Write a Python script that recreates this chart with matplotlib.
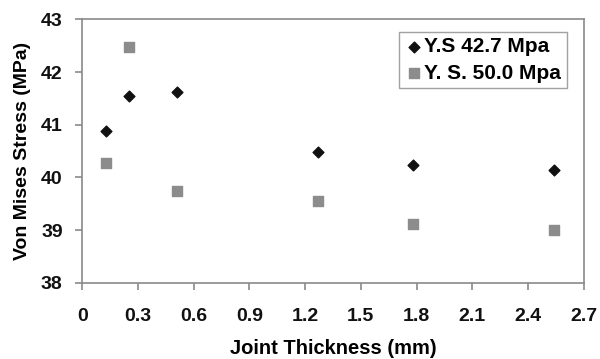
import matplotlib
matplotlib.use("Agg")
import matplotlib.pyplot as plt

plt.rcParams['font.family'] = ['Liberation Sans', 'DejaVu Sans']
plt.rcParams['font.weight'] = 'bold'

thickness = [0.127, 0.254, 0.508, 1.27, 1.778, 2.54]
ys_427 = [40.89, 41.54, 41.62, 40.48, 40.24, 40.14]
ys_500 = [40.27, 42.48, 39.75, 39.56, 39.12, 39.00]
xtick_vals = [0, 0.3, 0.6, 0.9, 1.2, 1.5, 1.8, 2.1, 2.4, 2.7]
xtick_labels = ['0', '0.3', '0.6', '0.9', '1.2', '1.5', '1.8', '2.1', '2.4', '2.7']
ytick_vals = [38, 39, 40, 41, 42, 43]

fig = plt.figure(figsize=(6, 3.59), dpi=100)
ax = fig.add_axes([0.137, 0.212, 0.836, 0.734])

ax.scatter(thickness, ys_427, marker='D', s=30, color='#111111', label='Y.S 42.7 Mpa', zorder=3)
ax.scatter(thickness, ys_500, marker='s', s=45, color='#8c8c8c', label='Y. S. 50.0 Mpa', zorder=3)

ax.set_xlim(0, 2.7)
ax.set_ylim(38, 43)
ax.set_xticks(xtick_vals)
ax.set_xticklabels(xtick_labels, fontweight='bold', fontsize=14)
ax.set_yticks(ytick_vals)
ax.set_yticklabels([str(v) for v in ytick_vals], fontweight='bold', fontsize=14)

for sp in ax.spines.values():
    sp.set_color('#8a8a8a')
    sp.set_linewidth(1.2)
ax.tick_params(axis='both', colors='#8a8a8a', labelcolor='#111111',
               length=5, width=1.2, direction='out')
ax.tick_params(axis='x', pad=13)
ax.tick_params(axis='y', pad=9)

ax.set_xlabel('Joint Thickness (mm)', fontsize=14.5, fontweight='bold', labelpad=10)
ax.set_ylabel('Von Mises Stress (MPa)', fontsize=14, fontweight='bold', labelpad=7)

leg = ax.legend(loc='upper right', bbox_to_anchor=(0.978, 0.975), fontsize=15,
                frameon=True, fancybox=False, handletextpad=0.05, handlelength=0.9,
                borderpad=0.25, labelspacing=0.35, borderaxespad=0.3)
leg.get_frame().set_edgecolor('#8a8a8a')
leg.get_frame().set_linewidth(1.0)

fig.savefig('out.png', dpi=100)
